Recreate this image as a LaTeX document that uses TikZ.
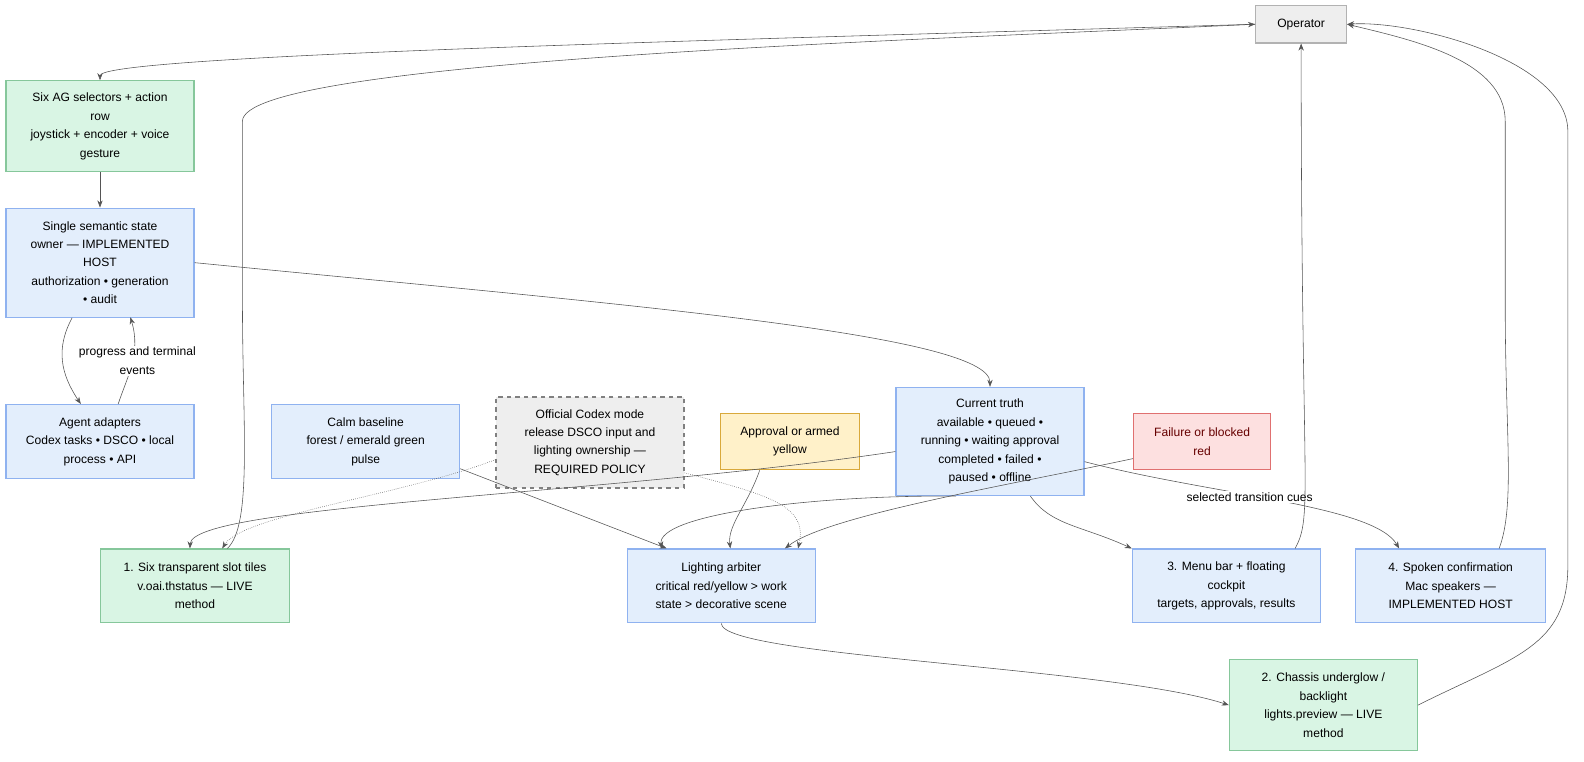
\documentclass[tikz,border=0pt]{standalone}
\usepackage{fontspec}
\setmainfont{Liberation Sans}
\usetikzlibrary{arrows.meta}
\definecolor{bluefill}{HTML}{E3EEFC}
\definecolor{blueline}{HTML}{8FB2F0}
\definecolor{greenfill}{HTML}{D9F5E4}
\definecolor{greenline}{HTML}{86C79B}
\definecolor{yellowfill}{HTML}{FFF1C9}
\definecolor{yellowline}{HTML}{D9A93B}
\definecolor{redfill}{HTML}{FDE0E0}
\definecolor{redline}{HTML}{E07070}
\definecolor{grayfill}{HTML}{EEEEEE}
\definecolor{edgecol}{HTML}{555555}
\begin{document}
\begin{tikzpicture}
    [%%%%%%%%%%%%%%%%%%%%%%%%%%%%%%
        x=0.025cm, y=-0.025cm,
        box/.style={rectangle, draw=blueline, fill=bluefill, thick, align=center,
            font=\fontsize{8.5}{13}\selectfont, inner sep=0pt},
        live/.style={box, draw=greenline, fill=greenfill},
        warn/.style={box, draw=yellowline, fill=yellowfill},
        fail/.style={box, draw=redline, fill=redfill, text=red!40!black},
        policy/.style={box, draw=gray, fill=grayfill, dashed},
        plain/.style={box, draw=gray!60, fill=grayfill},
        link/.style={draw=edgecol, -{Stealth[length=5pt]}},
        dotlink/.style={link, densely dotted},
        cue/.style={font=\fontsize{8.5}{13}\selectfont, fill=white, inner sep=1pt, align=center},
    ]%%%%%%%%%%%%%%%%%%%%%%%%%%%%%%
    \useasboundingbox (0,0) rectangle (1568,754);

    \node[plain, minimum width=2.25cm, minimum height=0.925cm] (op) at (1288,24) {Operator};

    \node[live, minimum width=4.65cm, minimum height=2.25cm] (ag) at (99,125)
        {Six AG selectors + action\\row\\joystick + encoder + voice\\gesture};
    \node[box, minimum width=4.65cm, minimum height=2.7cm] (state) at (99,260)
        {Single semantic state\\owner --- IMPLEMENTED\\HOST\\authorization • generation\\• audit};
    \node[box, minimum width=4.65cm, minimum height=1.825cm] (adapt) at (99,437)
        {Agent adapters\\Codex tasks • DSCO • local\\process • API};

    \node[box, minimum width=4.65cm, minimum height=1.825cm] (calm) at (362,437)
        {Calm baseline\\forest / emerald green\\pulse};
    \node[policy, minimum width=4.65cm, minimum height=2.25cm] (policy) at (584,438)
        {Official Codex mode\\release DSCO input and\\lighting ownership ---\\REQUIRED POLICY};
    \node[warn, minimum width=3.45cm, minimum height=1.4cm] (appr) at (782,437)
        {Approval or armed\\yellow};
    \node[box, minimum width=4.65cm, minimum height=2.675cm] (truth) at (980,437)
        {Current truth\\available • queued •\\running • waiting approval\\completed • failed •\\paused • offline};
    \node[fail, minimum width=3.4cm, minimum height=1.4cm] (failr) at (1190,437)
        {Failure or blocked\\red};

    \node[live, minimum width=4.675cm, minimum height=1.825cm] (tiles) at (193,580)
        {1. Six transparent slot tiles\\v.oai.thstatus --- LIVE\\method};
    \node[box, minimum width=4.65cm, minimum height=1.825cm] (arb) at (714,580)
        {Lighting arbiter\\critical red/yellow > work\\state > decorative scene};
    \node[box, minimum width=4.65cm, minimum height=1.825cm] (menu) at (1214,580)
        {3. Menu bar + floating\\cockpit\\targets, approvals, results};
    \node[box, minimum width=4.7cm, minimum height=1.825cm] (speak) at (1436,580)
        {4. Spoken confirmation\\Mac speakers ---\\IMPLEMENTED HOST};
    \node[live, minimum width=4.65cm, minimum height=2.25cm] (chassis) at (1310,698)
        {2. Chassis underglow /\\backlight\\lights.preview --- LIVE\\method};

    % operator and input side
    \draw[link] (op.west) .. controls (700,40) and (99,55) .. (ag.north);
    \draw[link] (ag) -- (state);
    \draw[link] (state.south west) ++(66,0) .. controls (55,345) and (60,370) .. (adapt.north west -| 80,0);
    \draw[link] (adapt.north) ++(18,0) .. controls (125,375) and (140,350) .. (129,314);
    \node[cue] (prog) at (136,357) {progress and terminal\\events};
    \draw[link] (state.east) .. controls (600,300) and (980,330) .. (truth.north);

    % into the surfaces
    \draw[link] (truth.west) ++(0,10) .. controls (600,490) and (190,500) .. (tiles.north west -| 188,0);
    \draw[link] (truth.south west) ++(60,0) .. controls (800,490) and (650,510) .. (arb.north west -| 655,0);
    \draw[link] (calm.east) ++(0,27) -- (arb.north west -| 660,0);
    \draw[link] (appr.south) ++(-30,0) .. controls (740,500) and (720,520) .. (arb.north west -| 723,0);
    \draw[link] (failr.west) ++(0,17) .. controls (1000,480) and (820,510) .. (arb.north west -| 777,0);
    \draw[dotlink] (policy.west) ++(0,17) .. controls (400,490) and (240,510) .. (tiles.north west -| 220,0);
    \draw[dotlink] (policy.east) ++(0,30) .. controls (760,490) and (800,500) .. (arb.north west -| 790,0);
    \draw[link] (truth.south) ++(40,0) .. controls (1040,520) and (1070,520) .. (menu.north west);
    \draw[link] (truth.east) ++(0,20) .. controls (1200,490) and (1360,500) .. (speak.north west -| 1385,0);
    \node[cue] (sel) at (1237,492) {selected transition cues};
    \draw[link] (arb.south) .. controls (714,650) and (1100,660) .. (chassis.west);

    % back to the operator
    \draw[link] (tiles.north) ++(32,0) .. controls (250,520) and (240,420) .. (240,300)
        -- (240,120) .. controls (240,60) and (900,40) .. (op.west);
    \draw[link] (menu.north) ++(68,0) .. controls (1300,510) and (1288,490) .. (op.south);
    \draw[link] (speak.north) ++(48,0) .. controls (1500,500) and (1490,430) .. (1490,300)
        -- (1490,120) .. controls (1490,60) and (1400,40) .. (op.east);
    \draw[link] (chassis.east) .. controls (1500,650) and (1552,640) .. (1552,560)
        -- (1552,130) .. controls (1552,60) and (1400,20) .. (op.east);
\end{tikzpicture}
\end{document}
